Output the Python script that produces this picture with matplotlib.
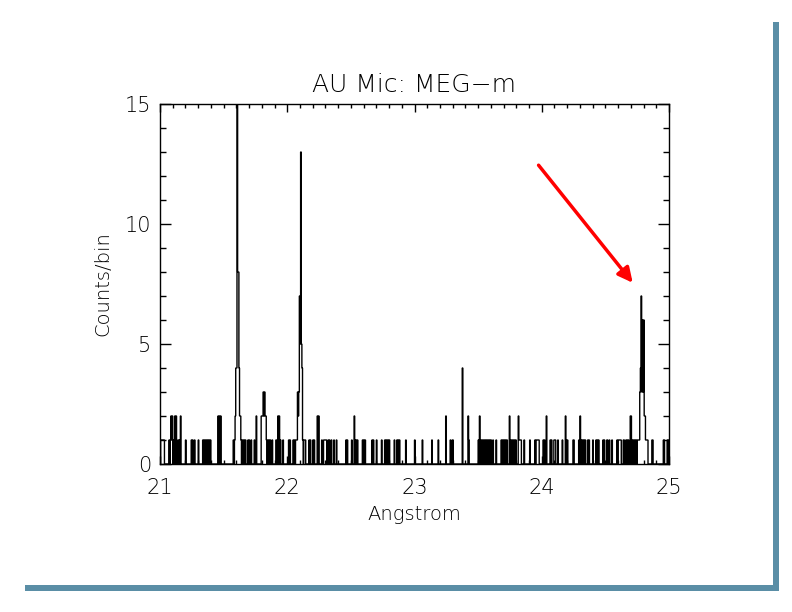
import matplotlib
matplotlib.use('Agg')
import matplotlib.pyplot as plt
from matplotlib.patches import Rectangle
from matplotlib.ticker import MultipleLocator
import numpy as np

plt.rcParams['font.family'] = 'DejaVu Sans'
plt.rcParams['font.weight'] = 'light'
plt.rcParams['axes.titleweight'] = 'light'
plt.rcParams['axes.labelweight'] = 'light'

bin_width = 0.005
lam_lo, lam_hi = 21.0, 25.0

# bins holding a single count (Angstrom, bin start)
ones_a = [21.005, 21.010, 21.015, 21.020, 21.025, 21.030, 21.070, 21.080, 21.090, 21.105,
          21.140, 21.150, 21.200, 21.245, 21.255, 21.270, 21.300, 21.335, 21.345, 21.355,
          21.365, 21.375, 21.385, 21.395, 21.575, 21.585, 21.635, 21.645, 21.655, 21.665]
ones_b = [21.670, 21.690, 21.700, 21.715, 21.740, 21.845, 21.855, 21.865, 21.880, 21.910,
          21.915, 21.945, 21.965, 22.010, 22.020, 22.045, 22.055, 22.065, 22.070, 22.130,
          22.135, 22.140, 22.170, 22.180, 22.200, 22.210, 22.270, 22.285, 22.290, 22.295,
          22.300, 22.305, 22.320, 22.330, 22.345]
ones_c = [22.365, 22.385, 22.460, 22.470, 22.505, 22.530, 22.540, 22.550, 22.590, 22.600,
          22.610, 22.665, 22.675, 22.700, 22.740, 22.765, 22.775, 22.785, 22.790, 22.800,
          22.840, 22.860, 22.870, 22.880, 22.930, 23.000]
ones_d = [23.060, 23.135, 23.185, 23.280, 23.295, 23.300, 23.425, 23.500, 23.520, 23.530,
          23.540, 23.550, 23.560, 23.570, 23.580, 23.590, 23.600, 23.615, 23.640, 23.680,
          23.690]
ones_e = [23.700, 23.710, 23.720, 23.725, 23.755, 23.765, 23.775, 23.785, 23.795, 23.820,
          23.825, 23.830, 23.835, 23.860, 23.905, 23.945, 23.955, 23.960, 23.965, 23.970,
          23.975, 24.010, 24.020, 24.065, 24.075, 24.095, 24.100, 24.105, 24.125, 24.160,
          24.195, 24.200, 24.245, 24.250, 24.290, 24.310, 24.320, 24.330, 24.340]
ones_f = [24.360, 24.370, 24.400, 24.425, 24.435, 24.445, 24.480, 24.490, 24.510, 24.515,
          24.530, 24.550, 24.590, 24.600, 24.605, 24.610, 24.615, 24.620, 24.640, 24.645,
          24.660, 24.670, 24.680, 24.710, 24.720, 24.730, 24.740, 24.750, 24.755, 24.760,
          24.820, 24.825, 24.830, 24.865, 24.870, 24.955, 24.960, 24.985, 24.995]

# bins with two counts
twos = [21.085, 21.095, 21.115, 21.125, 21.160, 21.455, 21.465, 21.475, 21.755, 21.925,
        21.935, 22.235, 22.245, 22.525, 23.245, 23.420, 23.510, 23.745, 23.815, 24.035,
        24.185, 24.300, 24.695, 24.700]
fours = [23.375]

# emission lines
o7r_lam = [21.590, 21.595, 21.600, 21.605, 21.610, 21.615, 21.620, 21.625, 21.630]
o7r_cnt = [2, 4, 4, 17, 8, 8, 4, 2, 2]
o7i_lam = [21.795, 21.800, 21.805, 21.810, 21.815, 21.820, 21.825, 21.830, 21.835]
o7i_cnt = [2, 2, 2, 3, 2, 3, 2, 2, 1]
o7f_lam = [22.075, 22.080, 22.085, 22.090, 22.095, 22.100, 22.105, 22.110, 22.115, 22.120]
o7f_cnt = [1, 3, 2, 3, 7, 5, 13, 5, 4, 1]
n7_lam = [24.765, 24.770, 24.775, 24.780, 24.785, 24.790, 24.795, 24.800, 24.805, 24.810, 24.815]
n7_cnt = [1, 3, 4, 7, 3, 6, 3, 6, 2, 2, 1]

nbins = int(round((lam_hi - lam_lo) / bin_width))
edges = lam_lo + bin_width * np.arange(nbins + 1)
counts = np.zeros(nbins)

def put(lams, vals):
    idx = np.round((np.asarray(lams) - lam_lo) / bin_width).astype(int)
    counts[idx] = vals

for lst in (ones_a, ones_b, ones_c, ones_d, ones_e, ones_f):
    put(lst, 1)
put(twos, 2)
put(fours, 4)
put(o7r_lam, o7r_cnt)
put(o7i_lam, o7i_cnt)
put(o7f_lam, o7f_cnt)
put(n7_lam, n7_cnt)

W, H = 792, 612
fig = plt.figure(figsize=(W / 100, H / 100), dpi=100)
ax = fig.add_axes([160 / W, 1 - 464 / H, 509 / W, 360 / H])

ax.stairs(counts, edges, color='black', lw=1.0, baseline=None)

ax.set_xlim(lam_lo, lam_hi)
ax.set_ylim(0, 15)
ax.xaxis.set_major_locator(MultipleLocator(1))
ax.xaxis.set_minor_locator(MultipleLocator(0.1))
ax.yaxis.set_major_locator(MultipleLocator(5))
ax.yaxis.set_minor_locator(MultipleLocator(1))
ax.tick_params(which='both', direction='in', top=True, right=True, width=1, colors='black')
ax.tick_params(axis='x', which='major', length=6, pad=10, labelsize=15)
ax.tick_params(axis='x', which='minor', length=3)
ax.tick_params(axis='y', which='major', length=8, pad=6, labelsize=15)
ax.tick_params(axis='y', which='minor', length=4.5)
for sp in ax.spines.values():
    sp.set_linewidth(1)

fig.canvas.draw()
ylabs = ax.get_yticklabels()
ylabs[0].set_va('bottom')
ylabs[-1].set_va('top')

ax.set_title('AU Mic: MEG\u2212m', fontsize=18, pad=9)
ax.set_xlabel('Angstrom', fontsize=14, labelpad=5)
ax.set_ylabel('Counts/bin', fontsize=14, labelpad=9)

# red arrow pointing at the N VII line
ax.annotate('', xy=(24.715, 7.55), xytext=(23.975, 12.45),
            arrowprops=dict(arrowstyle='-|>', color='#ff0000', lw=2.5,
                            mutation_scale=22, shrinkA=0, shrinkB=0))

# slide frame shadow
frame_col = '#5a8ea6'
fig.add_artist(Rectangle((773 / W, 1 - 591 / H), 6 / W, 569 / H,
                         transform=fig.transFigure, color=frame_col, lw=0))
fig.add_artist(Rectangle((25 / W, 1 - 591 / H), 754 / W, 6 / H,
                         transform=fig.transFigure, color=frame_col, lw=0))

fig.savefig('out.png', dpi=100)
